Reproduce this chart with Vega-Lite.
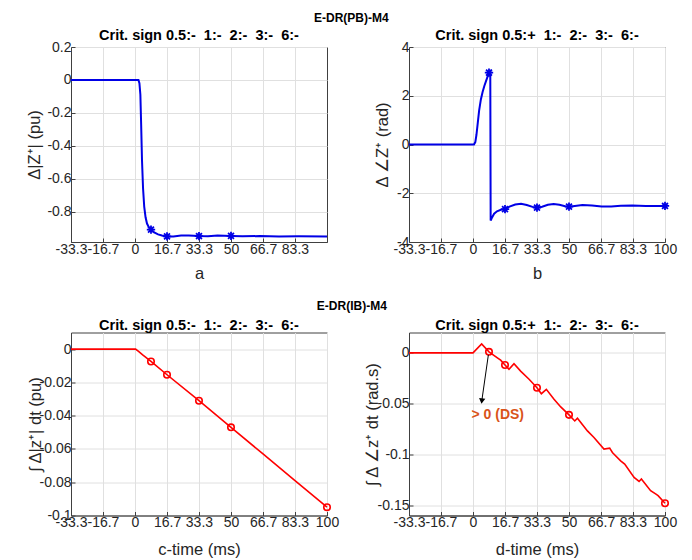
{
  "$schema": "https://vega.github.io/schema/vega-lite/v6.json",
  "padding": {"left": 25, "top": 12, "right": 5, "bottom": 2},
  "background": "#ffffff",
  "config": {
    "font": "Liberation Sans",
    "view": {"stroke": "#404040", "strokeWidth": 1},
    "axis": {
      "grid": true, "gridColor": "#e0e0e0", "gridWidth": 1,
      "domainColor": "#404040", "tickColor": "#404040", "tickSize": -4,
      "labelFont": "Liberation Sans", "labelFontSize": 14, "labelColor": "#262626", "labelPadding": 4,
      "titleFont": "Liberation Sans", "titleFontSize": 16.5, "titleFontWeight": "normal", "titleColor": "#262626",
      "labelOverlap": false, "labelFlush": false, "labelExpr": "'' + datum.value"
    },
    "title": {"font": "Liberation Sans", "fontSize": 14.5, "fontWeight": "bold", "color": "#000000", "baseline": "alphabetic"}
  },
  "datasets": {
    "p1": [
      {"t": -33.3333, "v": 0}, {"t": 1.8, "v": 0}, {"t": 2.3, "v": -0.02}, {"t": 2.8, "v": -0.09}, {"t": 3.2, "v": -0.27},
      {"t": 3.65, "v": -0.49}, {"t": 4.2, "v": -0.66}, {"t": 4.8, "v": -0.77}, {"t": 5.5, "v": -0.835}, {"t": 6.25, "v": -0.873},
      {"t": 7.2, "v": -0.895}, {"t": 8.33, "v": -0.91}, {"t": 10, "v": -0.927}, {"t": 12, "v": -0.939}, {"t": 14, "v": -0.946},
      {"t": 16.67, "v": -0.951}, {"t": 20, "v": -0.951}, {"t": 24, "v": -0.946}, {"t": 28, "v": -0.945}, {"t": 33.33, "v": -0.949},
      {"t": 38, "v": -0.95}, {"t": 43, "v": -0.946}, {"t": 50, "v": -0.948}, {"t": 56, "v": -0.95}, {"t": 65, "v": -0.949},
      {"t": 75, "v": -0.951}, {"t": 85, "v": -0.95}, {"t": 100, "v": -0.951}
    ],
    "p1m": [{"t": 8.33, "v": -0.91}, {"t": 16.67, "v": -0.951}, {"t": 33.33, "v": -0.949}, {"t": 50, "v": -0.948}],
    "p2": [
      {"t": -33.3333, "v": 0}, {"t": 0.5, "v": 0}, {"t": 1.2, "v": 0.1}, {"t": 1.8, "v": 0.4}, {"t": 2.5, "v": 0.9},
      {"t": 3.2, "v": 1.4}, {"t": 4.1, "v": 1.85}, {"t": 5, "v": 2.15}, {"t": 5.9, "v": 2.4}, {"t": 7, "v": 2.65},
      {"t": 8.33, "v": 2.95}, {"t": 9.0, "v": 3.0}, {"t": 9.2, "v": -3.12}, {"t": 10, "v": -2.98}, {"t": 11, "v": -2.84},
      {"t": 12.5, "v": -2.74}, {"t": 14.5, "v": -2.68}, {"t": 16.67, "v": -2.65}, {"t": 19, "v": -2.55}, {"t": 22, "v": -2.46},
      {"t": 25, "v": -2.43}, {"t": 28, "v": -2.48}, {"t": 31, "v": -2.56}, {"t": 33.33, "v": -2.59}, {"t": 36, "v": -2.55},
      {"t": 39, "v": -2.47}, {"t": 42, "v": -2.44}, {"t": 45, "v": -2.47}, {"t": 48, "v": -2.53}, {"t": 50, "v": -2.55},
      {"t": 53, "v": -2.52}, {"t": 57, "v": -2.48}, {"t": 62, "v": -2.5}, {"t": 67, "v": -2.54}, {"t": 72, "v": -2.54},
      {"t": 77, "v": -2.51}, {"t": 83, "v": -2.5}, {"t": 90, "v": -2.52}, {"t": 100, "v": -2.52}
    ],
    "p2m": [{"t": 8.33, "v": 2.95}, {"t": 16.67, "v": -2.65}, {"t": 33.33, "v": -2.59}, {"t": 50, "v": -2.55}, {"t": 100, "v": -2.52}],
    "p3": [
      {"t": -33.3333, "v": 0}, {"t": 0.3, "v": 0}, {"t": 2, "v": -0.0015}, {"t": 4, "v": -0.0035}, {"t": 8.33, "v": -0.0074},
      {"t": 16.67, "v": -0.0154}, {"t": 33.33, "v": -0.031}, {"t": 50, "v": -0.047}, {"t": 66.67, "v": -0.063},
      {"t": 83.33, "v": -0.079}, {"t": 100, "v": -0.095}
    ],
    "p3m": [{"t": 8.33, "v": -0.0074}, {"t": 16.67, "v": -0.0154}, {"t": 33.33, "v": -0.031}, {"t": 50, "v": -0.047}, {"t": 100, "v": -0.095}],
    "p4": [
      {"t": -33.3333, "v": 0}, {"t": 0, "v": 0}, {"t": 4.5, "v": 0.0088}, {"t": 8.33, "v": 0.001}, {"t": 12.7, "v": -0.0049},
      {"t": 14.4, "v": -0.0072}, {"t": 16.67, "v": -0.012}, {"t": 18.75, "v": -0.0163}, {"t": 21.35, "v": -0.0108},
      {"t": 24.8, "v": -0.018}, {"t": 29.2, "v": -0.026}, {"t": 33.33, "v": -0.0343}, {"t": 35.6, "v": -0.0402},
      {"t": 38.2, "v": -0.0359}, {"t": 42.2, "v": -0.0457}, {"t": 45.7, "v": -0.0532}, {"t": 50, "v": -0.061},
      {"t": 53, "v": -0.067}, {"t": 54.4, "v": -0.0643}, {"t": 59.6, "v": -0.0768}, {"t": 63, "v": -0.0833},
      {"t": 68.2, "v": -0.0947}, {"t": 71.2, "v": -0.0937}, {"t": 72.6, "v": -0.098}, {"t": 76.9, "v": -0.1062},
      {"t": 79, "v": -0.1094}, {"t": 83.9, "v": -0.1225}, {"t": 86.5, "v": -0.1265}, {"t": 87.7, "v": -0.1241},
      {"t": 92.5, "v": -0.1356}, {"t": 95.1, "v": -0.1388}, {"t": 96.4, "v": -0.1405}, {"t": 100, "v": -0.148}
    ],
    "p4m": [{"t": 8.33, "v": 0.001}, {"t": 16.67, "v": -0.012}, {"t": 33.33, "v": -0.0343}, {"t": 50, "v": -0.061}, {"t": 100, "v": -0.148}],
    "arrow": [{"t": 8.0, "v": -0.002, "t2": 4.45, "v2": -0.049}],
    "head": [{"t": 4.6, "v": -0.0475}],
    "note": [{"t": 12.9, "v": -0.065, "label": "> 0 (DS)"}]
  },
  "spacing": 17.5,
  "vconcat": [
    {
      "title": {"text": "E-DR(PB)-M4", "fontSize": 12, "anchor": "middle", "offset": 2},
      "bounds": "flush",
      "spacing": 82,
      "hconcat": [
        {
          "width": 256, "height": 195,
          "title": {"text": "Crit. sign 0.5:-\u00a0 1:-\u00a0 2:-\u00a0 3:-\u00a0 6:-", "frame": "group", "offset": -3},
          "encoding": {
            "x": {"field": "t", "type": "quantitative", "scale": {"domain": [-33.3333, 100], "nice": false, "zero": false},
                  "axis": {"values": [-33.3, -16.7, 0, 16.7, 33.3, 50, 66.7, 83.3], "title": "a", "titleFont": "Liberation Sans", "titleBaseline": "alphabetic", "titleY": 36}},
            "y": {"field": "v", "type": "quantitative", "scale": {"domain": [-0.985, 0.2], "nice": false, "zero": false},
                  "axis": {"values": [-0.8, -0.6, -0.4, -0.2, 0, 0.2], "title": "\u0394|Z\u207a| (pu)", "titleFont": "Liberation Sans", "titleBaseline": "alphabetic", "titleX": -32}}
          },
          "layer": [
            {"data": {"name": "p1"}, "mark": {"type": "line", "color": "#0000e6", "strokeWidth": 2}},
            {"data": {"name": "p1m"}, "mark": {"type": "point", "shape": "M-1,0L1,0M0,-1L0,1M-0.7,-0.7L0.7,0.7M-0.7,0.7L0.7,-0.7", "filled": false, "stroke": "#0000e6", "strokeWidth": 1.8, "size": 70, "opacity": 1}}
          ]
        },
        {
          "width": 256, "height": 195,
          "title": {"text": "Crit. sign 0.5:+\u00a0 1:-\u00a0 2:-\u00a0 3:-\u00a0 6:-", "frame": "group", "offset": -3},
          "encoding": {
            "x": {"field": "t", "type": "quantitative", "scale": {"domain": [-33.3333, 100], "nice": false, "zero": false},
                  "axis": {"values": [-33.3, -16.7, 0, 16.7, 33.3, 50, 66.7, 83.3, 100], "title": "b", "titleFont": "Liberation Sans", "titleBaseline": "alphabetic", "titleY": 36}},
            "y": {"field": "v", "type": "quantitative", "scale": {"domain": [-4, 4], "nice": false, "zero": false},
                  "axis": {"values": [-4, -2, 0, 2, 4], "title": "\u0394  \u2220Z\u207a (rad)", "titleFont": "Liberation Sans", "titleBaseline": "alphabetic", "titleX": -22}}
          },
          "layer": [
            {"data": {"name": "p2"}, "mark": {"type": "line", "color": "#0000e6", "strokeWidth": 2}},
            {"data": {"name": "p2m"}, "mark": {"type": "point", "shape": "M-1,0L1,0M0,-1L0,1M-0.7,-0.7L0.7,0.7M-0.7,0.7L0.7,-0.7", "filled": false, "stroke": "#0000e6", "strokeWidth": 1.8, "size": 70, "opacity": 1}}
          ]
        }
      ]
    },
    {
      "title": {"text": "E-DR(IB)-M4", "fontSize": 12, "anchor": "middle", "offset": 5},
      "bounds": "flush",
      "spacing": 82,
      "hconcat": [
        {
          "width": 256, "height": 183,
          "title": {"text": "Crit. sign 0.5:-\u00a0 1:-\u00a0 2:-\u00a0 3:-\u00a0 6:-", "frame": "group", "offset": -1},
          "encoding": {
            "x": {"field": "t", "type": "quantitative", "scale": {"domain": [-33.3333, 100], "nice": false, "zero": false},
                  "axis": {"values": [-33.3, -16.7, 0, 16.7, 33.3, 50, 66.7, 83.3, 100], "title": "c-time (ms)", "titleFont": "Liberation Sans", "titleBaseline": "alphabetic", "titleY": 38.5}},
            "y": {"field": "v", "type": "quantitative", "scale": {"domain": [-0.1, 0.01], "nice": false, "zero": false},
                  "axis": {"values": [-0.1, -0.08, -0.06, -0.04, -0.02, 0], "title": "\u222b \u0394|z\u207a| dt (pu)", "titleFont": "Liberation Sans", "titleBaseline": "alphabetic", "titleX": -31}}
          },
          "layer": [
            {"data": {"name": "p3"}, "mark": {"type": "line", "color": "#ff0000", "strokeWidth": 1.6}},
            {"data": {"name": "p3m"}, "mark": {"type": "point", "shape": "circle", "filled": false, "stroke": "#ff0000", "strokeWidth": 1.6, "size": 42, "opacity": 1}}
          ]
        },
        {
          "width": 256, "height": 183,
          "title": {"text": "Crit. sign 0.5:+\u00a0 1:-\u00a0 2:-\u00a0 3:-\u00a0 6:-", "frame": "group", "offset": -1},
          "encoding": {
            "x": {"field": "t", "type": "quantitative", "scale": {"domain": [-33.3333, 100], "nice": false, "zero": false},
                  "axis": {"values": [-33.3, -16.7, 0, 16.7, 33.3, 50, 66.7, 83.3, 100], "title": "d-time (ms)", "titleFont": "Liberation Sans", "titleBaseline": "alphabetic", "titleY": 38.5}},
            "y": {"field": "v", "type": "quantitative", "scale": {"domain": [-0.16, 0.02], "nice": false, "zero": false},
                  "axis": {"values": [-0.15, -0.1, -0.05, 0], "title": "\u222b \u0394  \u2220z\u207a dt (rad.s)", "titleFont": "Liberation Sans", "titleBaseline": "alphabetic", "titleX": -32}}
          },
          "layer": [
            {"data": {"name": "p4"}, "mark": {"type": "line", "color": "#ff0000", "strokeWidth": 1.6}},
            {"data": {"name": "p4m"}, "mark": {"type": "point", "shape": "circle", "filled": false, "stroke": "#ff0000", "strokeWidth": 1.6, "size": 42, "opacity": 1}},
            {"data": {"name": "arrow"}, "mark": {"type": "rule", "color": "#000000", "strokeWidth": 1},
             "encoding": {"x2": {"field": "t2"}, "y2": {"field": "v2"}}},
            {"data": {"name": "head"}, "mark": {"type": "point", "shape": "triangle-down", "filled": true, "color": "#000000", "size": 40, "angle": 8, "opacity": 1}},
            {"data": {"name": "note"}, "mark": {"type": "text", "color": "#d95319", "fontWeight": "bold", "fontSize": 14, "align": "center", "baseline": "alphabetic"},
             "encoding": {"text": {"field": "label"}}}
          ]
        }
      ]
    }
  ]
}
